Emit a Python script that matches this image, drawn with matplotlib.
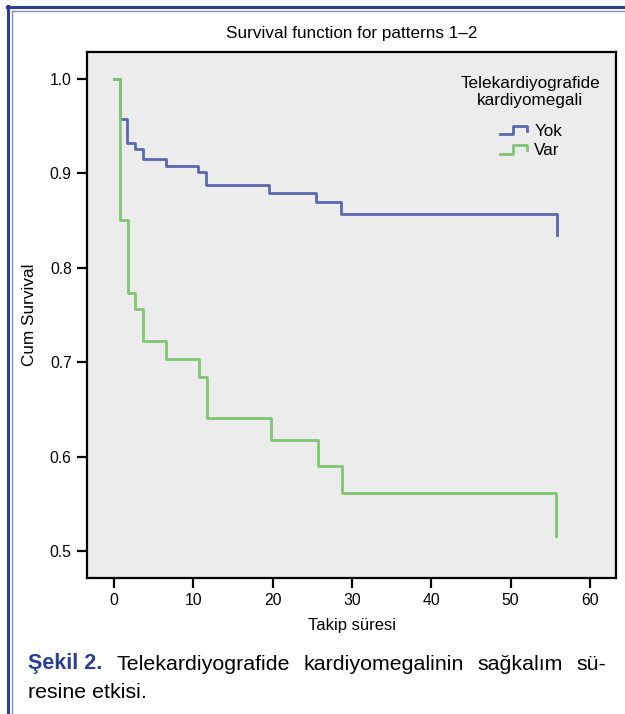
import matplotlib
matplotlib.use("Agg")
import matplotlib.pyplot as plt
from matplotlib.lines import Line2D
from matplotlib.legend_handler import HandlerBase

plt.rcParams['font.family'] = ['Liberation Sans', 'DejaVu Sans']

# Kaplan-Meier steps
yok_time = [0, 0.75, 1.7, 2.65, 3.6, 6.6, 10.6, 11.6, 19.5, 25.5, 28.6, 55.8, 55.8]
yok_surv = [1.0, 0.957, 0.932, 0.926, 0.915, 0.908, 0.901, 0.887, 0.879, 0.869, 0.857, 0.857, 0.835]
var_time = [0, 0.75, 1.72, 2.65, 3.6, 6.6, 10.75, 11.75, 19.75, 25.7, 28.8, 55.7, 55.7]
var_surv = [1.0, 0.850, 0.773, 0.756, 0.722, 0.703, 0.684, 0.641, 0.618, 0.590, 0.561, 0.561, 0.516]

group_labels = ["Yok", "Var"]
legend_title = "Telekardiyografide\nkardiyomegali"
x_ticks = [0, 10, 20, 30, 40, 50, 60]
y_ticks = [0.5, 0.6, 0.7, 0.8, 0.9, 1.0]

BLUE = '#5b67ae'
GREEN = '#80c673'
FRAME = '#2a3f93'


class StepHandler(HandlerBase):
    def create_artists(self, legend, orig_handle, xdescent, ydescent,
                       width, height, fontsize, trans):
        x0, y0 = -xdescent, -ydescent
        xs = [x0, x0 + 0.5 * width, x0 + 0.5 * width, x0 + width, x0 + width]
        ys = [y0 + 0.15 * height, y0 + 0.15 * height, y0 + 0.85 * height,
              y0 + 0.85 * height, y0 + 0.45 * height]
        ln = Line2D(xs, ys, color=orig_handle.get_color(),
                    lw=orig_handle.get_linewidth(), transform=trans)
        return [ln]


fig = plt.figure(figsize=(6.25, 7.14), dpi=100)
ax = fig.add_axes([0.1392, 0.1905, 0.8464, 0.7371])
ax.set_facecolor('#ececec')

l1, = ax.step(yok_time, yok_surv, where='post', color=BLUE, lw=2.0)
l2, = ax.step(var_time, var_surv, where='post', color=GREEN, lw=2.0)

ax.set_xlim(-3.4, 63.3)
ax.set_ylim(0.4714, 1.0286)
ax.set_xticks(x_ticks)
ax.set_yticks(y_ticks)
ax.set_yticklabels([f"{v:.1f}" for v in y_ticks])
ax.tick_params(direction='out', length=7, width=1.6, labelsize=11.3, pad=4)
for s in ax.spines.values():
    s.set_linewidth(1.6)
    s.set_color('black')

ax.set_title("Survival function for patterns 1\u20132", fontsize=12.3, pad=10)
ax.set_xlabel("Takip süresi", fontsize=12, labelpad=7)
ax.set_ylabel("Cum Survival", fontsize=12.3, labelpad=9)

# legend: centred two-line title, step-shaped handles below it
ax.text(0.8375, 0.923, legend_title, transform=ax.transAxes, ha='center',
        va='center', multialignment='center', fontsize=12.3, linespacing=1.2)
ax.legend([l1, l2], group_labels, handler_map={Line2D: StepHandler()},
          frameon=False, loc='center left', bbox_to_anchor=(0.781, 0.830),
          borderpad=0, borderaxespad=0, fontsize=12.3, handlelength=1.55,
          handletextpad=0.45, labelspacing=0.25)

# decorative frame (top and left double rule)
W, H = 625, 714
fig.add_artist(Line2D([7 / W, 1], [1 - 6.5 / H, 1 - 6.5 / H], color=FRAME, lw=2.2,
                      transform=fig.transFigure))
fig.add_artist(Line2D([7.5 / W, 7.5 / W], [0, 1 - 6 / H], color=FRAME, lw=2.2,
                      transform=fig.transFigure))
fig.add_artist(Line2D([12 / W, 1], [1 - 11 / H, 1 - 11 / H], color='#7f8fcc', lw=1.0,
                      transform=fig.transFigure))
fig.add_artist(Line2D([12 / W, 12 / W], [0, 1 - 11 / H], color='#7f8fcc', lw=1.0,
                      transform=fig.transFigure))

# caption, first line justified
renderer = fig.canvas.get_renderer()
cap_fs = 15.4
x_left, x_right = 28 / W, 606 / W
y1, y2 = 1 - 664 / H, 1 - 693 / H
t0 = fig.text(x_left, y1, "Şekil 2.", color=FRAME, fontweight='bold',
              fontsize=15.5, va='center', ha='left')
words = ["Telekardiyografide", "kardiyomegalinin", "sağkalım", "sü-"]
word_texts = [fig.text(0, y1, w, fontsize=cap_fs, va='center', ha='left') for w in words]
w0 = t0.get_window_extent(renderer).width / fig.bbox.width
ws = [t.get_window_extent(renderer).width / fig.bbox.width for t in word_texts]
gap = (x_right - x_left - w0 - sum(ws)) / len(words)
x = x_left + w0 + gap
for t, w in zip(word_texts, ws):
    t.set_x(x)
    x += w + gap
fig.text(x_left, y2, "resine etkisi.", fontsize=cap_fs, va='center', ha='left')

fig.savefig("out.png", dpi=100, facecolor='white')
